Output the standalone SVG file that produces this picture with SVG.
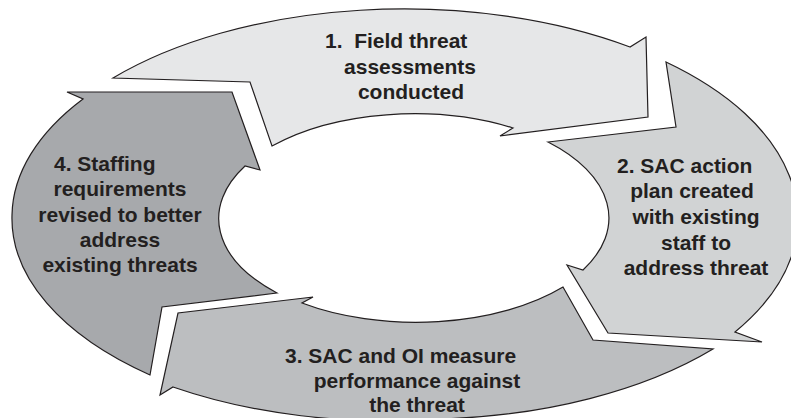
<svg xmlns="http://www.w3.org/2000/svg" width="791" height="418" viewBox="0 0 791 418">
  <style>
    .arrow { stroke: #231f20; stroke-width: 1.2; stroke-linejoin: miter; }
    .a1 { fill: #e6e7e8; }
    .a2 { fill: #d1d3d4; }
    .a3 { fill: #bcbec0; }
    .a4 { fill: #a7a9ac; }
    .lbl { font-family: "Liberation Sans", Arial, sans-serif; font-weight: bold; font-size: 21px; fill: #231f20; }
    .mid { text-anchor: middle; }
  </style>
  <rect width="791" height="418" fill="#ffffff"/>

  <g id="step1">
    <path class="arrow a1" d="M 113,78 A 389 205 0 0 1 630,47 L 646,37 L 648,117 L 500,136 L 513,128 A 197 105 0 0 0 272,146 L 250,82 Z"/>
    <text class="lbl" x="325" y="48" xml:space="preserve">1.  Field threat</text>
    <text class="lbl mid" x="410" y="74">assessments</text>
    <text class="lbl mid" x="411" y="99">conducted</text>
  </g>

  <g id="step2">
    <path class="arrow a2" d="M 666,62 A 392 208 0 0 1 789,175 A 392 208 0 0 1 735,332 L 762,342 L 608,333 L 567,265 L 583,270 A 197 105 0 0 0 548,142 L 676,127 Z"/>
    <text class="lbl" x="617" y="173">2. SAC action</text>
    <text class="lbl mid" x="692" y="198">plan created</text>
    <text class="lbl mid" x="696" y="224">with existing</text>
    <text class="lbl mid" x="696" y="250">staff to</text>
    <text class="lbl mid" x="696" y="275">address threat</text>
  </g>

  <g id="step3">
    <path class="arrow a3" d="M 713,349 A 392 208 0 0 1 440,419 A 392 208 0 0 1 173,387 L 160,395 L 178,313 L 313,297 L 302,303 A 197 105 0 0 0 563,287 L 593,340 Z"/>
    <text class="lbl" x="285" y="363">3. SAC and OI measure</text>
    <text class="lbl mid" x="417" y="388">performance against</text>
    <text class="lbl mid" x="417" y="412">the threat</text>
  </g>

  <g id="step4">
    <path class="arrow a4" d="M 150,375 A 389 205 0 0 1 12,215 A 389 205 0 0 1 83,99 L 67,92 L 232,92 L 260,170 L 245,166 A 197 105 0 0 0 277,293 L 162,307 Z"/>
    <text class="lbl" x="54" y="171">4. Staffing</text>
    <text class="lbl mid" x="120" y="196">requirements</text>
    <text class="lbl mid" x="120" y="222">revised to better</text>
    <text class="lbl mid" x="120" y="247">address</text>
    <text class="lbl mid" x="120" y="272">existing threats</text>
  </g>

  <g id="connectors"></g>
</svg>
